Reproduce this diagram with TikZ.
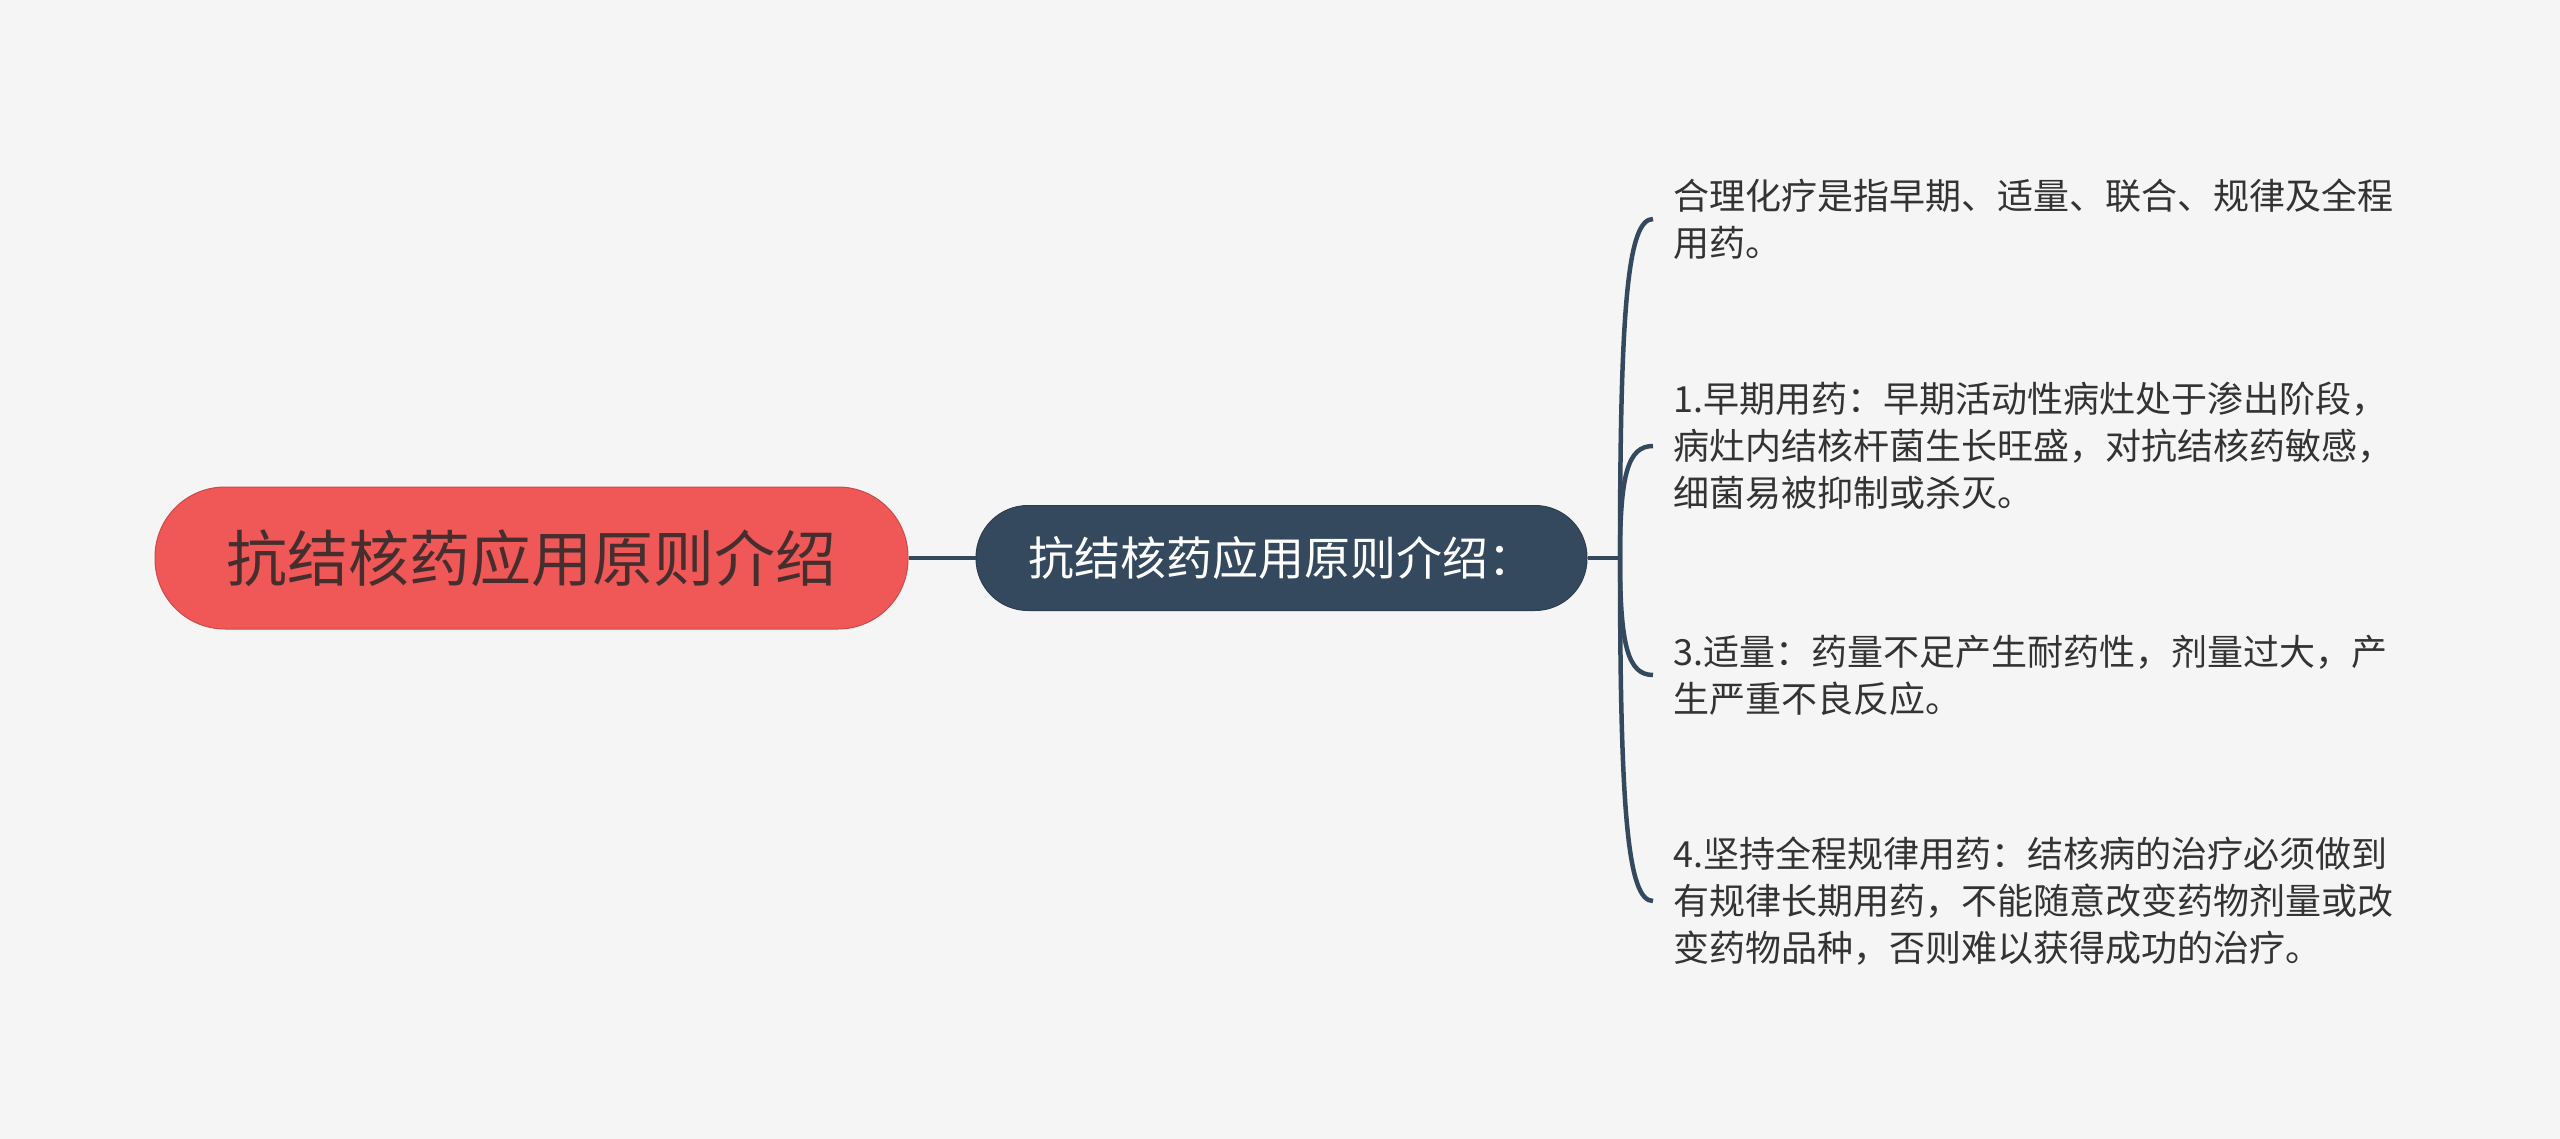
\documentclass[tikz,border=0pt]{standalone}
\usepackage{fontspec}
\setmainfont{Noto Sans CJK SC}
\usetikzlibrary{calc}
\definecolor{bgcol}{HTML}{F5F5F5}
\definecolor{rootred}{HTML}{F05757}
\definecolor{navy}{HTML}{34495E}
\definecolor{inkgrey}{HTML}{333333}

\begin{document}
\begin{tikzpicture}[x=1pt,y=-1pt,
  rootbox/.style={rectangle,rounded corners=70pt,fill=rootred,draw=rootred!85!black,line width=1pt,
    minimum width=753pt,minimum height=142pt,inner sep=0pt,text=inkgrey!90!red,font=\fontsize{61}{72}\selectfont},
  midbox/.style={rectangle,rounded corners=52pt,fill=navy,draw=navy!85!black,line width=1pt,
    minimum width=611pt,minimum height=105pt,inner sep=0pt,text=white,font=\fontsize{46}{54}\selectfont},
  leafnote/.style={anchor=west,align=left,inner xsep=20pt,inner ysep=0pt,text=inkgrey,font=\fontsize{36}{47}\selectfont},
  branch/.style={draw=navy,line width=4.5pt}
]
% canvas
\fill[bgcol] (0,0) rectangle (2560,1139);
\useasboundingbox (0,0) rectangle (2560,1139);

% main nodes
\node[rootbox] (root) at (531.5,558) {抗结核药应用原则介绍};
\node[midbox] (topic) at (1281.5,558) {抗结核药应用原则介绍：};
\coordinate (hub) at (1620,558);

% leaves
\node[leafnote] (leaf1) at (1653,219) {合理化疗是指早期、适量、联合、规律及全程\\用药。};
\node[leafnote] (leaf2) at (1653,446) {1.早期用药：早期活动性病灶处于渗出阶段，\\病灶内结核杆菌生长旺盛，对抗结核药敏感，\\细菌易被抑制或杀灭。};
\node[leafnote] (leaf3) at (1653,675) {3.适量：药量不足产生耐药性，剂量过大，产\\生严重不良反应。};
\node[leafnote] (leaf4) at (1653,901) {4.坚持全程规律用药：结核病的治疗必须做到\\有规律长期用药，不能随意改变药物剂量或改\\变药物品种，否则难以获得成功的治疗。};

% connectors
\draw[branch] (root.east) -- (topic.west);
\draw[branch] (topic.east) -- (hub);
\foreach \leaf in {leaf1,leaf2,leaf3,leaf4}
  \draw[branch] (hub) .. controls ($(hub|-\leaf.west)!0.25!(hub)$) and ($(\leaf.west)+(-25,0)$) .. (\leaf.west);
\end{tikzpicture}
\end{document}
